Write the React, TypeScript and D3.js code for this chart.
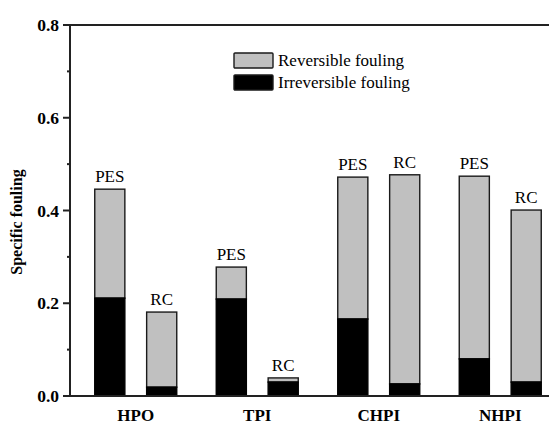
import React from 'react';
import { scaleLinear, scaleBand } from 'd3';

const groups = ['HPO', 'TPI', 'CHPI', 'NHPI'];
const membranes = ['PES', 'RC'];
// total specific fouling per group, [PES, RC]
const totalFouling = [
  [0.446, 0.181],
  [0.278, 0.039],
  [0.472, 0.477],
  [0.474, 0.401],
];
const irreversibleFouling = [
  [0.211, 0.019],
  [0.209, 0.03],
  [0.166, 0.026],
  [0.08, 0.03],
];
const majorTicks = [0, 0.2, 0.4, 0.6, 0.8];
const minorTicks = [0.1, 0.3, 0.5, 0.7];
const legendItems = ['Reversible fouling', 'Irreversible fouling'];

const W = 549;
const H = 425;
const font = '"Liberation Serif", "Times New Roman", serif';

export default function App() {
  const x = scaleBand().domain(groups).range([75, 561]);
  const y = scaleLinear().domain([0, 0.8]).range([396, 25]);
  const inner = scaleBand().domain(membranes).range([0, 82]).paddingInner(0.42);

  return (
    <svg width={W} height={H} style={{ position: 'absolute', left: 0, top: 0, background: '#fff' }}>
      {groups.map((g, gi) => {
        const gx = x(g)! + (x.bandwidth() - 82) / 2;
        return (
          <g key={g}>
            {membranes.map((m, mi) => {
              const bx = gx + inner(m)!;
              const tot = totalFouling[gi][mi];
              const irr = irreversibleFouling[gi][mi];
              return (
                <g key={m}>
                  <rect x={bx} y={y(tot)} width={inner.bandwidth()} height={y(irr) - y(tot)}
                    fill="#c0c0c0" stroke="#1a1a1a" strokeWidth={1.4} />
                  <rect x={bx} y={y(irr)} width={inner.bandwidth()} height={y(0) - y(irr)}
                    fill="#000" stroke="#000" strokeWidth={1.4} />
                  <text x={bx + inner.bandwidth() / 2} y={y(tot) - 7} textAnchor="middle"
                    fontFamily={font} fontSize={17}>{m}</text>
                </g>
              );
            })}
            <text x={x(g)! + x.bandwidth() / 2} y={421} textAnchor="middle" fontFamily={font}
              fontSize={17} fontWeight="bold">{g}</text>
          </g>
        );
      })}

      {/* frame */}
      <line x1={70} x2={W} y1={y(0.8)} y2={y(0.8)} stroke="#222" strokeWidth={2} />
      <line x1={70} x2={W} y1={y(0)} y2={y(0)} stroke="#222" strokeWidth={2} />
      <line x1={70} x2={70} y1={y(0.8)} y2={y(0)} stroke="#222" strokeWidth={2} />

      {majorTicks.map(t => (
        <g key={t}>
          <line x1={63} x2={70} y1={y(t)} y2={y(t)} stroke="#222" strokeWidth={2} />
          <text x={59} y={y(t) + 6} textAnchor="end" fontFamily={font} fontSize={17.5}
            fontWeight="bold">{t.toFixed(1)}</text>
        </g>
      ))}
      {minorTicks.map(t => (
        <line key={t} x1={67} x2={70} y1={y(t)} y2={y(t)} stroke="#222" strokeWidth={2} />
      ))}

      <text transform={`translate(22,${222}) rotate(-90)`} textAnchor="middle"
        fontFamily={font} fontSize={16} fontWeight="bold">Specific fouling</text>

      {legendItems.map((l, i) => (
        <g key={l} transform={`translate(234,${53 + i * 22})`}>
          <rect width={39} height={15} rx={1} fill={i === 0 ? '#c0c0c0' : '#000'} stroke="#1a1a1a"
            strokeWidth={1.4} />
          <text x={44} y={12.5} fontFamily={font} fontSize={17}>{l}</text>
        </g>
      ))}
    </svg>
  );
}
